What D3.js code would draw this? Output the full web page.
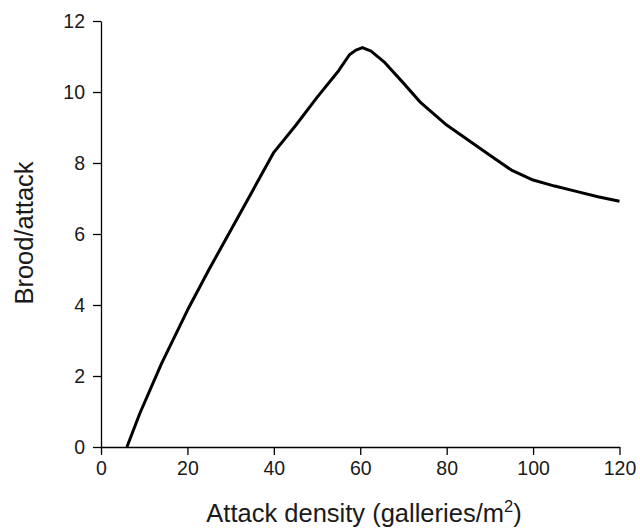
<!DOCTYPE html>
<html><head><meta charset="utf-8">
<script src="https://cdn.jsdelivr.net/npm/d3@7"></script>
<style>body{margin:0;background:#fff}svg{display:block}text{font-family:"Liberation Sans",Arial,sans-serif;fill:#1a1a1a}</style>
</head><body>
<svg id="c" width="640" height="529"></svg>
<script>
const density = [6, 9, 14, 20, 25, 30, 35, 40, 45, 50, 55, 57.5, 59, 60.5, 62.5, 65.5, 70, 74, 80, 90, 95, 100, 105, 110, 115, 120];
const brood   = [0, 0.95, 2.35, 3.85, 5.0, 6.1, 7.2, 8.3, 9.05, 9.85, 10.6, 11.05, 11.18, 11.25, 11.15, 10.85, 10.25, 9.7, 9.07, 8.22, 7.8, 7.52, 7.35, 7.2, 7.05, 6.92];
const xTicks = [0, 20, 40, 60, 80, 100, 120];
const yTicks = [0, 2, 4, 6, 8, 10, 12];
const xTitle = "Attack density (galleries/m";
const yTitle = "Brood/attack";

const svg = d3.select("#c");
const x = d3.scaleLinear().domain([0, 120]).range([101, 619.5]);
const y = d3.scaleLinear().domain([0, 12]).range([447, 21]);

const gx = svg.append("g").attr("transform", "translate(0,447)")
  .call(d3.axisBottom(x).tickValues(xTicks).tickSize(8).tickSizeOuter(0).tickPadding(6));
const gy = svg.append("g").attr("transform", "translate(101,0)")
  .call(d3.axisLeft(y).tickValues(yTicks).tickSize(8).tickSizeOuter(0).tickPadding(8));
[gx, gy].forEach(g => {
  g.select(".domain").attr("stroke", "#000").attr("stroke-width", 1.3);
  g.selectAll(".tick line").attr("stroke", "#000").attr("stroke-width", 1.3);
  g.selectAll(".tick text").attr("font-size", 19.5).attr("font-family", '"Liberation Sans",Arial,sans-serif').attr("fill", "#1a1a1a");
});
gx.selectAll(".tick text").attr("y", 14).attr("dy", "0.71em");

const line = d3.line().x((d, i) => x(density[i])).y(d => y(d)).curve(d3.curveLinear);
svg.append("path").attr("d", line(brood)).attr("fill", "none").attr("stroke", "#000")
  .attr("stroke-width", 3).attr("stroke-linejoin", "round").attr("stroke-linecap", "butt");

const t = svg.append("text").attr("x", 364).attr("y", 521.5).attr("text-anchor", "middle").attr("font-size", 25.5);
t.append("tspan").text(xTitle);
t.append("tspan").attr("font-size", 16.5).attr("dy", -10).text("2");
t.append("tspan").attr("dy", 10).text(")");

svg.append("text").attr("transform", "translate(33,233) rotate(-90)").attr("text-anchor", "middle")
  .attr("font-size", 25.5).text(yTitle);
</script>
</body></html>
